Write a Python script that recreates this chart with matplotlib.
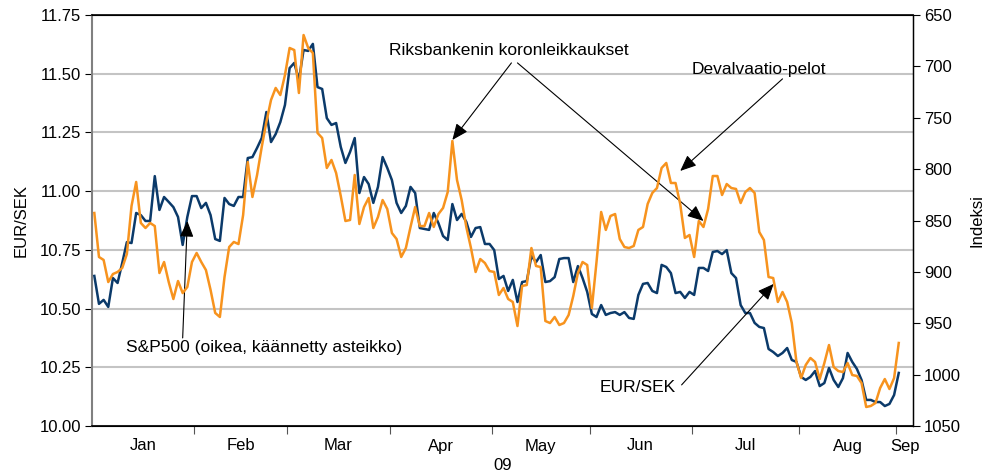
import numpy as np
import matplotlib
matplotlib.use("Agg")
import matplotlib.pyplot as plt

plt.rcParams['font.family'] = ['Liberation Sans', 'DejaVu Sans']

# EUR/SEK, business days from 1 Jan 2009 (left axis)
eursek = [
    10.639, 10.520, 10.537, 10.507, 10.630, 10.609, 10.694, 10.783, 10.779, 10.907,
    10.898, 10.873, 10.873, 11.064, 10.920, 10.975, 10.954, 10.932, 10.890, 10.771,
    10.890, 10.979, 10.979, 10.928, 10.950, 10.898, 10.796, 10.788, 10.971, 10.945,
    10.937, 10.975, 10.975, 11.141, 11.145, 11.184, 11.226, 11.337, 11.209, 11.243,
    11.294, 11.367, 11.524, 11.546, 11.473, 11.601, 11.597, 11.627, 11.443, 11.435,
    11.311, 11.282, 11.290, 11.188, 11.120, 11.167, 11.226, 10.992, 11.060, 11.030,
    10.950, 11.018, 11.145, 11.099, 11.047, 10.950, 10.907, 10.937, 11.018, 10.992,
    10.843, 10.839, 10.835, 10.907, 10.864, 10.809, 10.792, 10.945, 10.877, 10.903,
    10.869, 10.805, 10.843, 10.847, 10.775, 10.775, 10.749, 10.626, 10.639, 10.575,
    10.622, 10.528, 10.613, 10.617, 10.724, 10.698, 10.728, 10.613, 10.617, 10.634,
    10.711, 10.715, 10.715, 10.613, 10.681, 10.630, 10.571, 10.477, 10.464, 10.515,
    10.473, 10.481, 10.485, 10.473, 10.485, 10.460, 10.456, 10.558, 10.605, 10.609,
    10.575, 10.566, 10.686, 10.677, 10.651, 10.566, 10.571, 10.545, 10.571, 10.558,
    10.673, 10.673, 10.660, 10.741, 10.745, 10.732, 10.749, 10.651, 10.630, 10.515,
    10.481, 10.481, 10.439, 10.422, 10.417, 10.328, 10.315, 10.298, 10.311, 10.332,
    10.281, 10.273, 10.209, 10.196, 10.209, 10.234, 10.170, 10.183, 10.247, 10.196,
    10.166, 10.204, 10.311, 10.273, 10.243, 10.196, 10.111, 10.111, 10.102, 10.102,
    10.085, 10.094, 10.132, 10.226,
]

# S&P500 index (right axis, inverted)
sp500 = [
    842.7, 885.5, 888.4, 909.9, 902.1, 900.1, 896.2, 882.6, 835.9, 812.5,
    852.4, 857.3, 852.4, 855.4, 901.1, 890.4, 909.9, 926.4, 908.9, 920.6,
    914.7, 890.4, 881.6, 890.4, 898.2, 917.6, 940.0, 943.9, 905.0, 875.8,
    870.9, 872.9, 844.7, 793.1, 827.1, 805.7, 778.5, 754.1, 732.7, 721.0,
    727.9, 708.4, 682.1, 684.1, 725.9, 669.5, 682.1, 687.0, 764.8, 769.7,
    798.9, 791.1, 803.8, 826.2, 850.5, 849.5, 805.7, 853.4, 836.9, 828.1,
    857.3, 846.6, 830.1, 838.8, 862.2, 868.0, 885.5, 876.8, 856.3, 836.9,
    855.4, 855.4, 842.7, 856.3, 843.7, 837.8, 822.3, 772.6, 810.6, 830.1,
    856.3, 876.8, 900.1, 887.5, 891.4, 899.2, 900.1, 922.5, 915.7, 926.4,
    929.3, 952.7, 913.7, 912.8, 876.8, 894.3, 895.3, 947.8, 949.8, 943.9,
    951.7, 949.8, 942.0, 923.5, 901.1, 890.4, 893.3, 935.2, 890.4, 841.7,
    859.2, 845.6, 843.7, 868.0, 875.8, 876.8, 874.8, 859.2, 856.3, 833.9,
    823.2, 818.4, 798.9, 794.0, 813.5, 813.5, 833.9, 867.0, 864.1, 885.5,
    850.5, 856.3, 838.8, 806.7, 806.7, 825.2, 814.5, 818.4, 819.3, 833.0,
    822.3, 818.4, 823.2, 861.2, 869.0, 905.0, 906.0, 929.3, 919.6, 929.3,
    949.8, 987.7, 1003.3, 990.6, 983.8, 987.7, 1004.3, 988.7, 971.2, 992.6,
    996.5, 997.5, 988.7, 1000.4, 1001.3, 1008.2, 1031.5, 1030.5, 1027.6, 1013.0,
    1004.3, 1014.0, 1003.3, 969.2,
]

months = ["Jan", "Feb", "Mar", "Apr", "May", "Jun", "Jul", "Aug", "Sep"]
# business-day index where each month starts
month_starts = [0, 22, 42, 64, 86, 107, 129, 152, 173]
x_end = 176

navy = '#0b3a6a'
orange = '#f7931e'

fig = plt.figure(figsize=(9.93, 4.72), dpi=100)
ax = fig.add_axes([92 / 993, 1 - 426 / 472, (912.7 - 92) / 993, 411 / 472])
ax2 = ax.twinx()

x1 = np.arange(len(eursek))
x2 = np.arange(len(sp500))
ax.plot(x1, eursek, color=navy, lw=1.8, zorder=3)
ax2.plot(x2, sp500, color=orange, lw=1.8, zorder=3)

ax.set_xlim(-0.5, x_end)
ax.set_ylim(10.0, 11.75)
ax2.set_ylim(1050, 650)

ax.set_yticks(np.arange(10.0, 11.76, 0.25))
ax.set_yticklabels([f"{v:.2f}" for v in np.arange(10.0, 11.76, 0.25)])
ax2.set_yticks(np.arange(650, 1051, 50))
ax.yaxis.grid(True, color='#c4c4c4', lw=1.5, zorder=0)
ax.set_axisbelow(True)

bounds = [m - 0.5 for m in month_starts[1:]]
centers = []
edges = [-0.5] + bounds + [x_end]
for a, b in zip(edges[:-1], edges[1:]):
    centers.append((a + b) / 2)
ax.set_xticks(bounds)
ax.set_xticklabels([])
ax.set_xticks(centers, minor=True)
ax.set_xticklabels(months, minor=True)
ax.tick_params(axis='x', which='major', length=6, direction='out', color='#555555')
ax.tick_params(axis='x', which='minor', length=0, pad=9, labelsize=12)
ax.tick_params(axis='y', length=5, labelsize=12, pad=3)
ax2.tick_params(axis='y', length=5, labelsize=12, pad=3)

ax.spines['left'].set_color('#808080')
ax.spines['left'].set_linewidth(1.5)
ax2.spines['left'].set_visible(False)
for s in ['top', 'bottom']:
    ax2.spines[s].set_linewidth(1.2)
ax2.spines['right'].set_linewidth(1.0)

ax.set_ylabel("EUR/SEK", fontsize=12, labelpad=8)
ax2.set_ylabel("Indeksi", fontsize=12, labelpad=6)
ax.text(0.5, -0.095, "09", transform=ax.transAxes, ha='center', va='center', fontsize=12)

arrow = dict(arrowstyle='-|>,head_length=0.7,head_width=0.3', color='black',
             lw=0.8, shrinkA=0, shrinkB=0, mutation_scale=14)

# annotations
ax.text(89.1, 11.60, "Riksbankenin koronleikkaukset", ha='center', va='center', fontsize=12.5)
ax.annotate('', xy=(77, 11.218), xytext=(89.7, 11.546), arrowprops=arrow)
ax.annotate('', xy=(131, 10.873), xytext=(91, 11.546), arrowprops=arrow)

ax.text(143, 11.52, "Devalvaatio-pelot", ha='center', va='center', fontsize=12.5)
ax.annotate('', xy=(126, 11.086), xytext=(148, 11.478), arrowprops=arrow)

ax.text(36.6, 10.336, "S&P500 (oikea, käännetty asteikko)", ha='center', va='center', fontsize=12.5)
ax.annotate('', xy=(20, 10.873), xytext=(19.0, 10.375), arrowprops=arrow)

ax.text(116.8, 10.162, "EUR/SEK", ha='center', va='center', fontsize=12.5)
ax.annotate('', xy=(146.1, 10.605), xytext=(126.3, 10.175), arrowprops=arrow)

fig.savefig("out.png", dpi=100)
